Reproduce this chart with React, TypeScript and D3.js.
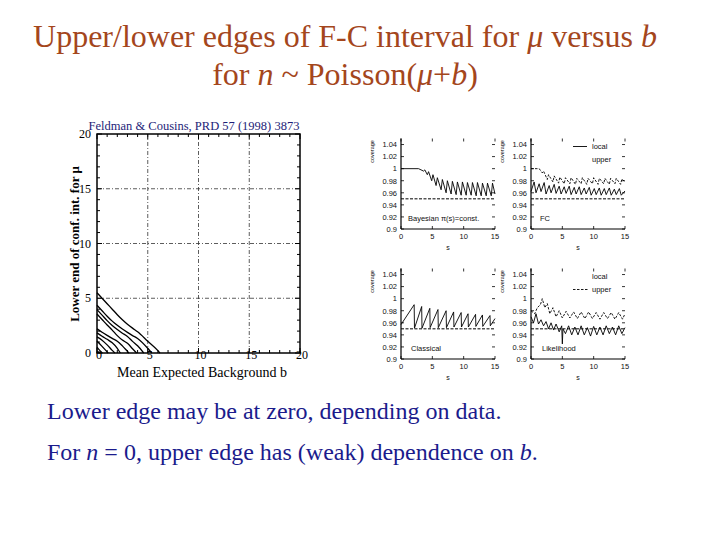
import * as d3 from 'd3'

// ---- left plot: FC lower edge of 90% interval vs b, one curve per n ----
const bGrid = [0, 0.5, 1, 1.5, 2, 2.5, 3, 3.5, 4, 5, 6]
const lowerEdges: number[][] = [
  [0.11],
  [0.53, 0.03],
  [1.1, 0.6, 0.1],
  [1.47, 1.17, 0.74, 0.24],
  [1.84, 1.53, 1.25, 0.93, 0.43],
  [2.21, 1.9, 1.61, 1.33, 1.08, 0.65, 0.15],
  [3.56, 3.06, 2.56, 2.09, 1.59, 1.18, 0.89, 0.39],
  [3.96, 3.46, 2.96, 2.51, 2.14, 1.81, 1.51, 1.06, 0.66],
  [4.36, 3.86, 3.36, 2.91, 2.53, 2.19, 1.88, 1.59, 1.33, 0.43],
  [5.5, 5.0, 4.5, 4.0, 3.5, 3.04, 2.63, 2.27, 1.94, 1.08, 0.22],
]
const zeroAt = [0.3, 0.55, 1.1, 1.75, 2.3, 3.15, 3.9, 4.6, 5.4, 6.2]
const leftTicks = [0, 5, 10, 15, 20]

// ---- coverage panels ----
const covTicks = [0.9, 0.92, 0.94, 0.96, 0.98, 1, 1.02, 1.04]
const covTickLabels = ['0.9', '0.92', '0.94', '0.96', '0.98', '1', '1.02', '1.04']
const sTicks = [0, 5, 10, 15]

const bayesS = [0, 2.8, 3.6, 3.8, 4.2, 4.4, 4.9, 5.1, 5.6, 5.8, 6.4, 6.6, 7.2, 7.4, 8.0, 8.2, 8.8, 9.0, 9.6, 9.8, 10.4, 10.6, 11.2, 11.4, 12.0, 12.2, 12.8, 13.0, 13.6, 13.8, 14.4, 14.6, 15]
const bayesCov = [1.0, 1.0, 0.996, 0.998, 0.99, 0.995, 0.98, 0.99, 0.972, 0.985, 0.965, 0.982, 0.96, 0.98, 0.958, 0.979, 0.957, 0.978, 0.956, 0.978, 0.956, 0.977, 0.956, 0.977, 0.955, 0.977, 0.955, 0.976, 0.955, 0.976, 0.955, 0.976, 0.958]

const fcUpperS = [0, 1.3, 1.8, 2.0, 2.6, 2.8, 3.5, 3.7, 4.4, 4.6, 5.3, 5.5, 6.2, 6.4, 7.1, 7.3, 8.0, 8.2, 8.9, 9.1, 9.8, 10.0, 10.7, 10.9, 11.6, 11.8, 12.5, 12.7, 13.4, 13.6, 14.3, 14.5, 15]
const fcUpperCov = [1.0, 1.0, 0.993, 0.996, 0.982, 0.99, 0.978, 0.988, 0.976, 0.986, 0.975, 0.985, 0.975, 0.985, 0.974, 0.984, 0.975, 0.985, 0.974, 0.984, 0.975, 0.985, 0.974, 0.984, 0.975, 0.984, 0.974, 0.984, 0.975, 0.984, 0.974, 0.983, 0.978]
const fcLocalS = [0, 0.5, 0.8, 1.3, 1.6, 2.1, 2.4, 2.9, 3.2, 3.7, 4.0, 4.5, 4.8, 5.3, 5.6, 6.1, 6.4, 6.9, 7.2, 7.7, 8.0, 8.5, 8.8, 9.3, 9.6, 10.1, 10.4, 10.9, 11.2, 11.7, 12.0, 12.5, 12.8, 13.3, 13.6, 14.1, 14.4, 15]
const fcLocalCov = [0.962, 0.978, 0.96, 0.975, 0.962, 0.977, 0.958, 0.972, 0.96, 0.974, 0.959, 0.971, 0.958, 0.97, 0.959, 0.971, 0.957, 0.969, 0.958, 0.97, 0.957, 0.968, 0.958, 0.969, 0.956, 0.967, 0.957, 0.968, 0.956, 0.967, 0.957, 0.968, 0.956, 0.966, 0.957, 0.967, 0.956, 0.963]

const classS = [0, 2.1, 2.15, 3.3, 3.35, 4.6, 4.65, 5.9, 5.95, 7.2, 7.25, 8.4, 8.45, 9.6, 9.65, 10.7, 10.75, 11.9, 11.95, 13.0, 13.05, 14.2, 14.25, 15]
const classCov = [0.957, 0.99, 0.951, 0.987, 0.951, 0.984, 0.952, 0.982, 0.952, 0.98, 0.952, 0.978, 0.953, 0.977, 0.953, 0.975, 0.953, 0.974, 0.954, 0.973, 0.954, 0.972, 0.955, 0.967]

const likUpperS = [0, 0.6, 1.0, 1.5, 1.8, 2.2, 2.6, 3.0, 3.5, 4.0, 4.5, 5.0, 5.6, 6.2, 6.8, 7.4, 8.0, 8.6, 9.2, 9.8, 10.4, 11.0, 11.6, 12.2, 12.8, 13.4, 14.0, 14.6, 15]
const likUpperCov = [0.98, 0.975, 0.985, 0.99, 1.0, 0.985, 0.992, 0.975, 0.985, 0.97, 0.98, 0.968, 0.979, 0.968, 0.978, 0.967, 0.978, 0.967, 0.978, 0.967, 0.977, 0.966, 0.977, 0.967, 0.977, 0.966, 0.977, 0.966, 0.975]
const likLocalS = [0, 0.4, 0.8, 1.2, 1.6, 2.0, 2.4, 2.8, 3.2, 3.6, 4.0, 4.5, 4.9, 5.0, 5.1, 5.5, 6.0, 6.5, 7.0, 7.5, 8.0, 8.5, 9.0, 9.5, 10.0, 10.5, 11.0, 11.5, 12.0, 12.5, 13.0, 13.5, 14.0, 14.5, 15]
const likLocalCov = [0.97, 0.96, 0.975, 0.958, 0.965, 0.955, 0.962, 0.95, 0.96, 0.948, 0.958, 0.945, 0.955, 0.925, 0.95, 0.942, 0.955, 0.94, 0.953, 0.94, 0.955, 0.94, 0.952, 0.938, 0.954, 0.94, 0.953, 0.94, 0.955, 0.942, 0.953, 0.94, 0.955, 0.942, 0.952]

const TITLE_COLOR = '#a4461c'
const TEXT_COLOR = '#1b1b8c'
const SERIF = '"Liberation Serif", "Times New Roman", serif'
const SANS = '"Liberation Sans", Arial, sans-serif'

function LeftPlot() {
  const x = d3.scaleLinear().domain([0, 20]).range([97, 300])
  const y = d3.scaleLinear().domain([0, 20]).range([353, 134])
  const line = d3
    .line<[number, number]>()
    .x((d) => x(d[0]))
    .y((d) => y(d[1]))
    .curve(d3.curveMonotoneX)
  const minor = d3.range(0, 21)

  return (
    <g>
      <text x={194} y={130} textAnchor="middle" fontFamily={SERIF} fontSize={12.5} fill="#1e1e78">
        Feldman &amp; Cousins, PRD 57 (1998) 3873
      </text>
      {/* dash-dot grid */}
      {[5, 10, 15].map((v) => (
        <g key={v} stroke="#333" strokeWidth={0.8} strokeDasharray="4,2,1,2">
          <line x1={x(v)} x2={x(v)} y1={y(0)} y2={y(20)} />
          <line x1={x(0)} x2={x(20)} y1={y(v)} y2={y(v)} />
        </g>
      ))}
      {/* ticks inward on all sides */}
      {minor.map((v) => {
        const len = v % 5 === 0 ? 5 : 3
        return (
          <g key={v} stroke="#000" strokeWidth={1}>
            <line x1={x(v)} x2={x(v)} y1={y(0)} y2={y(0) - len} />
            <line x1={x(v)} x2={x(v)} y1={y(20)} y2={y(20) + len} />
            <line x1={x(0)} x2={x(0) + len} y1={y(v)} y2={y(v)} />
            <line x1={x(20)} x2={x(20) - len} y1={y(v)} y2={y(v)} />
          </g>
        )
      })}
      <rect x={x(0)} y={y(20)} width={x(20) - x(0)} height={y(0) - y(20)} fill="none" stroke="#000" strokeWidth={1.5} />
      {lowerEdges.map((vals, i) => {
        const pts: [number, number][] = vals.map((v, j) => [bGrid[j], v])
        pts.push([zeroAt[i], 0])
        return <path key={i} d={line(pts) || ''} fill="none" stroke="#000" strokeWidth={1.3} />
      })}
      {leftTicks.map((v) => (
        <g key={v} fontFamily={SERIF} fontSize={12} fill="#000">
          <text x={x(0) - 6} y={y(v) + 4} textAnchor="end">{v}</text>
          <text x={x(v) + 2} y={359} textAnchor="middle">{v}</text>
        </g>
      ))}
      <text x={202} y={377} textAnchor="middle" fontFamily={SERIF} fontSize={14} fill="#000">
        Mean Expected Background b
      </text>
      <text
        transform="translate(79,244) rotate(-90)"
        textAnchor="middle"
        fontFamily={SERIF}
        fontSize={13}
        fontWeight="bold"
        fill="#000"
      >
        Lower end of conf. int. for μ
      </text>
    </g>
  )
}

interface Series {
  s: number[]
  cov: number[]
  dashed?: boolean
}

interface PanelProps {
  x0: number
  yBottom: number
  series: Series[]
  label: string
  labelX: number
  legendLocal?: boolean
  legendUpper?: boolean
}

function CoveragePanel({ x0, yBottom, series, label, labelX, legendLocal, legendUpper }: PanelProps) {
  const x = d3.scaleLinear().domain([0, 15]).range([x0, x0 + 94])
  const y = d3.scaleLinear().domain([0.9, 1.05]).range([yBottom, yBottom - 90.5])
  const top = y(1.05)
  const right = x(15)

  return (
    <g fontFamily={SANS} fill="#111">
      {/* 0.95 reference */}
      <line x1={x(0)} x2={right} y1={y(0.95)} y2={y(0.95)} stroke="#000" strokeWidth={1} strokeDasharray="3,1.5" />
      {series.map((ser, k) => {
        const gen = d3
          .line<number>()
          .x((_, i) => x(ser.s[i]))
          .y((d) => y(d))
        return (
          <path
            key={k}
            d={gen(ser.cov) || ''}
            fill="none"
            stroke="#000"
            strokeWidth={0.9}
            strokeDasharray={ser.dashed ? '2.5,1.5' : undefined}
          />
        )
      })}
      {/* axes */}
      <line x1={x0} x2={x0} y1={top} y2={yBottom} stroke="#000" strokeWidth={1.2} />
      <line x1={x0} x2={right} y1={yBottom} y2={yBottom} stroke="#000" strokeWidth={1.2} />
      {covTicks.map((v, i) => (
        <g key={v}>
          <line x1={x0} x2={x0 + 3} y1={y(v)} y2={y(v)} stroke="#000" strokeWidth={0.8} />
          <line x1={right} x2={right - 3} y1={y(v)} y2={y(v)} stroke="#000" strokeWidth={0.8} />
          <text x={x0 - 4} y={y(v) + 2.8} textAnchor="end" fontSize={7.5}>
            {covTickLabels[i]}
          </text>
        </g>
      ))}
      {sTicks.map((v) => (
        <g key={v}>
          <line x1={x(v)} x2={x(v)} y1={yBottom} y2={yBottom - 3} stroke="#000" strokeWidth={0.8} />
          <line x1={x(v)} x2={x(v)} y1={top} y2={top + 3} stroke="#000" strokeWidth={0.8} />
          <text x={x(v)} y={yBottom + 10} textAnchor="middle" fontSize={7.5}>
            {v}
          </text>
        </g>
      ))}
      <text x={x0 + 47} y={yBottom + 21} textAnchor="middle" fontSize={7}>
        s
      </text>
      <text transform={`translate(${x0 - 27},${top + 13}) rotate(-90)`} textAnchor="middle" fontSize={5.5}>
        coverage
      </text>
      <text x={labelX} y={yBottom - 8} fontSize={7.5}>
        {label}
      </text>
      {legendLocal !== undefined && (
        <g fontSize={7.5}>
          {legendLocal && <line x1={x0 + 42} x2={x0 + 56} y1={top + 8} y2={top + 8} stroke="#000" strokeWidth={0.9} />}
          <text x={x0 + 61} y={top + 10.5}>local</text>
          {legendUpper && (
            <line x1={x0 + 42} x2={x0 + 57} y1={top + 21} y2={top + 21} stroke="#000" strokeWidth={0.9} strokeDasharray="2.5,1.5" />
          )}
          <text x={x0 + 61} y={top + 23.5}>upper</text>
        </g>
      )}
    </g>
  )
}

export default function App() {
  return (
    <svg
      width={720}
      height={540}
      style={{ position: 'absolute', left: 0, top: 0, background: '#fff' }}
      fontFamily={SERIF}
    >
      <rect width={720} height={540} fill="#fff" />
      <g fill={TITLE_COLOR} fontSize={32} textAnchor="middle">
        <text x={345} y={47}>
          Upper/lower edges of F-C interval for <tspan fontStyle="italic">μ</tspan> versus{' '}
          <tspan fontStyle="italic">b</tspan>
        </text>
        <text x={345} y={85}>
          for <tspan fontStyle="italic">n</tspan> ~ Poisson(<tspan fontStyle="italic">μ</tspan>+
          <tspan fontStyle="italic">b</tspan>)
        </text>
      </g>

      <LeftPlot />

      <CoveragePanel
        x0={401}
        yBottom={229}
        series={[{ s: bayesS, cov: bayesCov }]}
        label="Bayesian π(s)=const."
        labelX={408}
      />
      <CoveragePanel
        x0={531}
        yBottom={229}
        series={[
          { s: fcUpperS, cov: fcUpperCov, dashed: true },
          { s: fcLocalS, cov: fcLocalCov },
        ]}
        label="FC"
        labelX={540}
        legendLocal={true}
        legendUpper={false}
      />
      <CoveragePanel
        x0={401}
        yBottom={359}
        series={[{ s: classS, cov: classCov }]}
        label="Classical"
        labelX={411}
      />
      <CoveragePanel
        x0={531}
        yBottom={359}
        series={[
          { s: likUpperS, cov: likUpperCov, dashed: true },
          { s: likLocalS, cov: likLocalCov },
        ]}
        label="Likelihood"
        labelX={542}
        legendLocal={false}
        legendUpper={true}
      />

      <g fill={TEXT_COLOR} fontSize={24}>
        <text x={47} y={419}>Lower edge may be at zero, depending on data.</text>
        <text x={47} y={460}>
          For <tspan fontStyle="italic">n</tspan> = 0, upper edge has (weak) dependence on{' '}
          <tspan fontStyle="italic">b</tspan>.
        </text>
      </g>
    </svg>
  )
}
